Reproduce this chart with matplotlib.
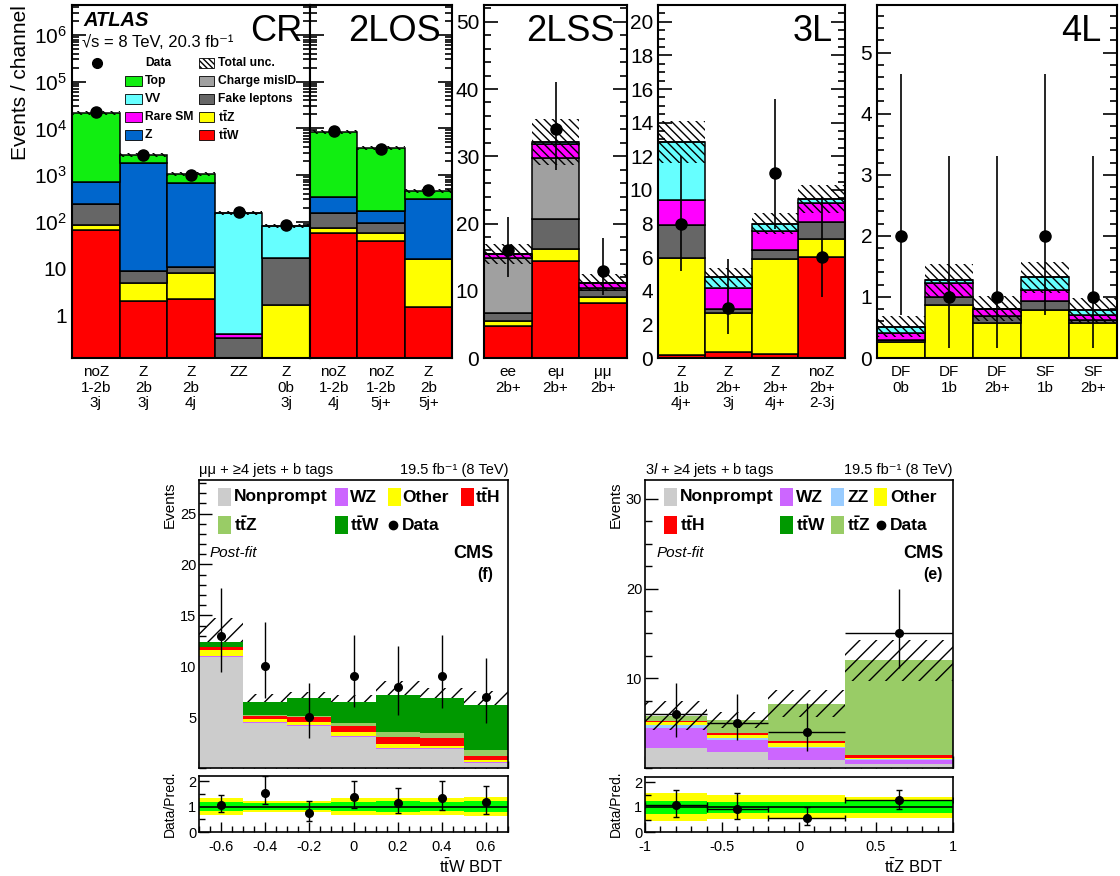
import numpy as np
import matplotlib
matplotlib.use("Agg")
import matplotlib.pyplot as plt
from matplotlib.patches import Rectangle
from matplotlib.ticker import FixedLocator, MultipleLocator, LogLocator, NullFormatter, FuncFormatter

plt.rcParams['font.family'] = ['Liberation Sans', 'DejaVu Sans']
plt.rcParams['mathtext.fontset'] = 'custom'
plt.rcParams['mathtext.rm'] = 'Liberation Sans'
plt.rcParams['mathtext.it'] = 'Liberation Sans:italic'
plt.rcParams['mathtext.bf'] = 'Liberation Sans:bold'
plt.rcParams['axes.unicode_minus'] = False
plt.rcParams['hatch.linewidth'] = 1.0

# ================= ATLAS data (layer increments, bottom -> top) =================
cr_labels = ["noZ\n1-2b\n3j", "Z\n2b\n3j", "Z\n2b\n4j", "ZZ", "Z\n0b\n3j"]
cr_ttW   = [66, 2.0, 2.2, 0, 0]
cr_ttZ   = [19, 2.9, 5.8, 0, 1.6]
cr_fake  = [155, 3.9, 2.5, 0.32, 15.4]
cr_misid = [0, 0, 0, 0, 0]
cr_rare  = [0, 0, 0, 0.07, 0]
cr_Z     = [460, 1791, 660, 0, 0]
cr_VV    = [0, 0, 0, 151.6, 63]
cr_top   = [20300, 900, 380, 0, 0]
cr_unc   = [2000, 250, 100, 15, 8]
cr_data  = [22000, 2700, 1000, 160, 85]

los_labels = ["noZ\n1-2b\n4j", "noZ\n1-2b\n5j+", "Z\n2b\n5j+"]
los_ttW   = [57, 38, 1.5]
los_ttZ   = [16, 19, 14.5]
los_fake  = [77, 38, 0]
los_misid = [0, 0, 0]
los_rare  = [0, 0, 0]
los_Z     = [190, 75, 284]
los_VV    = [0, 0, 0]
los_top   = [7960, 3630, 150]
los_unc   = [800, 350, 45]
los_data  = [8800, 3700, 470]

lss_labels = ["ee\n2b+", "eμ\n2b+", "μμ\n2b+"]
lss_ttW   = [4.75, 14.4, 8.2]
lss_ttZ   = [0.75, 1.8, 0.8]
lss_fake  = [1.2, 4.4, 1.1]
lss_misid = [8.1, 9.1, 0.3]
lss_rare  = [0.7, 2.1, 0.8]
lss_Z     = [0, 0, 0]
lss_VV    = [0, 0.3, 0]
lss_top   = [0, 0, 0]
lss_unc   = [1.5, 3.4, 1.3]
lss_data  = [16, 34, 13]
lss_lo    = [12, 28, 9.4]
lss_hi    = [21, 41, 17.8]

l3_labels = ["Z\n1b\n4j+", "Z\n2b+\n3j", "Z\n2b+\n4j+", "noZ\n2b+\n2-3j"]
l3_ttW   = [0.2, 0.35, 0.25, 6.0]
l3_ttZ   = [5.75, 2.35, 5.65, 1.05]
l3_fake  = [1.95, 0.2, 0.55, 1.05]
l3_misid = [0, 0, 0, 0]
l3_rare  = [1.5, 1.25, 1.1, 1.1]
l3_Z     = [0, 0, 0, 0]
l3_VV    = [3.45, 0.65, 0.45, 0.25]
l3_top   = [0, 0, 0, 0]
l3_unc   = [1.25, 0.55, 0.65, 0.85]
l3_data  = [8, 3, 11, 6]
l3_lo    = [5.2, 1.4, 7.7, 3.6]
l3_hi    = [12, 5.9, 15.4, 9.6]

l4_labels = ["DF\n0b", "DF\n1b", "DF\n2b+", "SF\n1b", "SF\n2b+"]
l4_ttW   = [0, 0, 0, 0, 0]
l4_ttZ   = [0.27, 0.87, 0.57, 0.79, 0.57]
l4_fake  = [0.03, 0.13, 0.11, 0.14, 0.05]
l4_misid = [0, 0, 0, 0, 0]
l4_rare  = [0.11, 0.23, 0.12, 0.19, 0.08]
l4_Z     = [0, 0, 0, 0, 0]
l4_VV    = [0.10, 0.04, 0.01, 0.20, 0.08]
l4_top   = [0, 0, 0, 0, 0]
l4_unc   = [0.17, 0.27, 0.2, 0.26, 0.2]
l4_data  = [2, 1, 1, 2, 1]
l4_lo    = [0.7, 0.17, 0.17, 0.7, 0.17]
l4_hi    = [4.65, 3.3, 3.3, 4.65, 3.3]

atlas_colors = {"ttW": "#ff0000", "ttZ": "#ffff00", "Fake": "#666666", "MisID": "#a0a0a0",
                "Rare": "#ff00ff", "Z": "#0066cc", "VV": "#66ffff", "Top": "#11ee11"}

# ================= CMS data =================
f_edges = [-0.7, -0.5, -0.3, -0.1, 0.1, 0.3, 0.5, 0.7]
f_nonprompt = [10.9, 4.4, 4.1, 3.0, 1.9, 1.85, 0.45]
f_WZ        = [0.12, 0.15, 0.1, 0.15, 0.1, 0.15, 0.1]
f_other     = [0.55, 0.25, 0.35, 0.4, 0.4, 0.2, 0.25]
f_ttH       = [0.3, 0.3, 0.5, 0.55, 0.6, 0.7, 0.4]
f_ttZ       = [0.06, 0.15, 0.05, 0.3, 0.5, 0.5, 0.6]
f_ttW       = [0.5, 1.28, 1.8, 2.1, 3.7, 3.5, 4.4]
f_unc       = [2.3, 0.7, 0.6, 0.7, 1.3, 1.0, 1.4]
f_data      = [13, 10, 5, 9, 8, 9, 7]
f_lo        = [9.4, 6.9, 2.9, 6.0, 5.2, 5.9, 4.4]
f_hi        = [17.7, 14.3, 8.4, 13.1, 12.0, 13.1, 10.8]
f_ratio     = [1.07, 1.55, 0.74, 1.39, 1.13, 1.35, 1.16]
f_ratio_lo  = [0.77, 1.1, 0.43, 0.93, 0.74, 0.88, 0.71]
f_ratio_hi  = [1.45, 2.2, 1.23, 2.0, 1.72, 2.0, 1.8]
f_band1     = [0.17, 0.13, 0.14, 0.19, 0.2, 0.19, 0.2]
f_band2     = [0.32, 0.2, 0.22, 0.33, 0.35, 0.33, 0.37]

e_edges = [-1.0, -0.6, -0.2, 0.3, 1.0]
e_nonprompt = [2.2, 1.77, 0.85, 0.47]
e_WZ        = [2.25, 1.3, 1.4, 0.45]
e_ZZ        = [0.37, 0.23, 0.1, 0.03]
e_other     = [0.28, 0.4, 0.45, 0.15]
e_ttH       = [0.1, 0.2, 0.2, 0.3]
e_ttW       = [0.05, 0.05, 0.05, 0.05]
e_ttZ       = [0.6, 1.43, 4.12, 10.55]
e_unc       = [1.6, 0.9, 1.5, 2.3]
e_data      = [6, 5, 4, 15]
e_lo        = [3.5, 3.1, 1.9, 11.2]
e_hi        = [9.5, 8.3, 7.2, 19.9]
e_ratio     = [1.07, 0.94, 0.58, 1.28]
e_ratio_lo  = [0.62, 0.52, 0.3, 0.94]
e_ratio_hi  = [1.68, 1.55, 1.0, 1.69]
e_band1     = [0.26, 0.22, 0.22, 0.23]
e_band2     = [0.55, 0.48, 0.48, 0.42]

cms_colors = {"Nonprompt": "#cccccc", "WZ": "#cc66ff", "ZZ": "#99ccff", "Other": "#ffff00",
              "ttH": "#ff0000", "ttW": "#009900", "ttZ": "#99cc66"}

# ================= figure =================
W, H = 1120, 876
fig = plt.figure(figsize=(W / 100, H / 100), dpi=100)


def add_ax(l, t, r, b):
    return fig.add_axes([l / W, 1 - b / H, (r - l) / W, (b - t) / H])


def style_frame(ax, lw=1.5):
    for s in ax.spines.values():
        s.set_linewidth(lw)


def atlas_panel(box, layers, data, labels, unc, lo=None, hi=None, log=False):
    ax = add_ax(*box)
    n = len(data)
    x = np.arange(n) + 0.5
    base = 1e-3 if log else 0.0
    bottom = np.full(n, base)
    for name, vals in layers:
        v = np.asarray(vals, float)
        ax.bar(x, v, width=1.0, bottom=bottom, color=atlas_colors[name],
               edgecolor='black', linewidth=1.1, zorder=2)
        bottom = bottom + v
    u = np.asarray(unc, float)
    ax.bar(x, 2 * u, width=1.0, bottom=bottom - u, fill=False, hatch='\\\\\\\\',
           edgecolor='black', linewidth=0, zorder=3)
    d = np.asarray(data, float)
    if lo is not None:
        ax.errorbar(x, d, yerr=[d - np.asarray(lo), np.asarray(hi) - d], fmt='o',
                    color='black', ms=8, elinewidth=1.2, capsize=0, zorder=4)
    else:
        ax.plot(x, d, 'o', color='black', ms=8, zorder=4)
    if log:
        ax.set_yscale('log')
    ax.set_xlim(0, n)
    ax.set_xticks(x)
    ax.set_xticklabels(labels, fontsize=11, linespacing=1.15)
    ax.xaxis.set_minor_locator(FixedLocator(np.arange(1, n)))
    ax.tick_params(axis='x', which='major', length=0, pad=5)
    ax.tick_params(axis='x', which='minor', direction='in', length=7, width=1.2)
    ax.tick_params(axis='y', which='both', direction='in', left=True, right=True,
                   labelsize=15, width=1.2)
    ax.tick_params(axis='y', which='major', length=10)
    ax.tick_params(axis='y', which='minor', length=5)
    style_frame(ax)
    return ax


def layers_of(ttW, ttZ, fake, misid, rare, Z, VV, top):
    return [("ttW", ttW), ("ttZ", ttZ), ("Fake", fake), ("MisID", misid),
            ("Rare", rare), ("Z", Z), ("VV", VV), ("Top", top)]


def logfmt(v, pos):
    if v == 1:
        return "1"
    if v == 10:
        return "10"
    return r"$10^{%d}$" % int(round(np.log10(v)))


def gfmt(v, pos):
    return "%g" % round(v, 6)


ax_cr = atlas_panel((72, 5, 310, 358),
                    layers_of(cr_ttW, cr_ttZ, cr_fake, cr_misid, cr_rare, cr_Z, cr_VV, cr_top),
                    cr_data, cr_labels, cr_unc, log=True)
ax_los = atlas_panel((310, 5, 452, 358),
                     layers_of(los_ttW, los_ttZ, los_fake, los_misid, los_rare, los_Z, los_VV, los_top),
                     los_data, los_labels, los_unc, log=True)
for a in (ax_cr, ax_los):
    a.set_ylim(0.12, 4.4e6)
    a.yaxis.set_major_locator(FixedLocator([1, 10, 1e2, 1e3, 1e4, 1e5, 1e6]))
    a.yaxis.set_minor_locator(LogLocator(base=10, subs=np.arange(2, 10), numticks=20))
    a.yaxis.set_minor_formatter(NullFormatter())
ax_cr.yaxis.set_major_formatter(FuncFormatter(logfmt))
ax_los.tick_params(axis='y', labelleft=False)

ax_lss = atlas_panel((484, 5, 627, 358),
                     layers_of(lss_ttW, lss_ttZ, lss_fake, lss_misid, lss_rare, lss_Z, lss_VV, lss_top),
                     lss_data, lss_labels, lss_unc, lss_lo, lss_hi)
ax_lss.set_ylim(0, 52.5)
ax_lss.yaxis.set_major_locator(MultipleLocator(10))
ax_lss.yaxis.set_minor_locator(MultipleLocator(2))

ax_3l = atlas_panel((658, 5, 845, 358),
                    layers_of(l3_ttW, l3_ttZ, l3_fake, l3_misid, l3_rare, l3_Z, l3_VV, l3_top),
                    l3_data, l3_labels, l3_unc, l3_lo, l3_hi)
ax_3l.set_ylim(0, 21)
ax_3l.yaxis.set_major_locator(MultipleLocator(2))
ax_3l.yaxis.set_minor_locator(MultipleLocator(0.5))

ax_4l = atlas_panel((877, 5, 1117, 358),
                    layers_of(l4_ttW, l4_ttZ, l4_fake, l4_misid, l4_rare, l4_Z, l4_VV, l4_top),
                    l4_data, l4_labels, l4_unc, l4_lo, l4_hi)
ax_4l.set_ylim(0, 5.78)
ax_4l.yaxis.set_major_locator(MultipleLocator(1))
ax_4l.yaxis.set_minor_locator(MultipleLocator(0.2))


# ================= CMS panels =================
def cms_panels(box_main, box_ratio, edges, layers, unc, data, lo, hi,
               ratio, rlo, rhi, band1, band2, ylim, ymaj, ymin, xmaj, xmin,
               xerr_bars, hatch_top):
    e = np.asarray(edges, float)
    c = 0.5 * (e[1:] + e[:-1])
    w = np.diff(e)
    ax = add_ax(*box_main)
    bottom = np.zeros(len(c))
    for name, vals in layers:
        v = np.asarray(vals, float)
        ax.bar(c, v, width=w, bottom=bottom, color=cms_colors[name], linewidth=0, zorder=2)
        bottom = bottom + v
    u = np.asarray(unc, float)
    ax.bar(c, 2 * u, width=w, bottom=bottom - u, fill=False, hatch='//',
           edgecolor='black', linewidth=0, zorder=3 if hatch_top else 1)
    d = np.asarray(data, float)
    ax.errorbar(c, d, yerr=[d - np.asarray(lo), np.asarray(hi) - d],
                xerr=(w / 2 if xerr_bars else None), fmt='o', color='black', ms=5.5,
                elinewidth=1.0, capsize=0, zorder=4)
    ax.set_xlim(e[0], e[-1])
    ax.set_ylim(*ylim)
    ax.yaxis.set_major_locator(MultipleLocator(ymaj))
    ax.yaxis.set_minor_locator(MultipleLocator(ymin))
    ax.xaxis.set_major_locator(MultipleLocator(xmaj))
    ax.xaxis.set_minor_locator(MultipleLocator(xmin))
    ax.tick_params(which='both', direction='in', labelsize=10.5, width=1.0)
    ax.tick_params(which='major', length=9)
    ax.tick_params(which='minor', length=5)
    ax.tick_params(axis='x', labelbottom=False)
    ax.tick_params(axis='y', pad=2)
    ax.set_yticks(list(np.arange(ymaj, ylim[1], ymaj)))
    style_frame(ax, 1.2)

    ar = add_ax(*box_ratio)
    ar.bar(c, 2 * np.asarray(band2), width=w, bottom=1 - np.asarray(band2), color='#ffff00', linewidth=0, zorder=1)
    ar.bar(c, 2 * np.asarray(band1), width=w, bottom=1 - np.asarray(band1), color='#00ff00', linewidth=0, zorder=2)
    ar.axhline(1, color='black', lw=1.2, zorder=3)
    r = np.asarray(ratio, float)
    ar.errorbar(c, r, yerr=[r - np.asarray(rlo), np.asarray(rhi) - r],
                xerr=(w / 2 if xerr_bars else None), fmt='o', color='black', ms=5.5,
                elinewidth=1.0, capsize=2, zorder=4)
    ar.set_xlim(e[0], e[-1])
    ar.set_ylim(0, 2.2)
    ar.set_yticks([0, 1, 2])
    ar.yaxis.set_minor_locator(MultipleLocator(0.5))
    ar.xaxis.set_major_locator(MultipleLocator(xmaj))
    ar.xaxis.set_minor_locator(MultipleLocator(xmin))
    ar.xaxis.set_major_formatter(FuncFormatter(gfmt))
    ar.tick_params(which='both', direction='in', labelsize=10.5, width=1.0)
    ar.tick_params(which='major', length=7)
    ar.tick_params(which='minor', length=4)
    ar.tick_params(axis='x', pad=6)
    ar.tick_params(axis='y', pad=2)
    style_frame(ar, 1.2)
    return ax, ar


f_layers = [("Nonprompt", f_nonprompt), ("WZ", f_WZ), ("Other", f_other),
            ("ttH", f_ttH), ("ttZ", f_ttZ), ("ttW", f_ttW)]
cms_panels((199, 480, 508, 768), (199, 776, 508, 832), f_edges, f_layers, f_unc,
           f_data, f_lo, f_hi, f_ratio, f_ratio_lo, f_ratio_hi, f_band1, f_band2,
           (0, 28.3), 5, 1, 0.2, 0.05, False, False)

e_layers = [("Nonprompt", e_nonprompt), ("WZ", e_WZ), ("ZZ", e_ZZ), ("Other", e_other),
            ("ttH", e_ttH), ("ttW", e_ttW), ("ttZ", e_ttZ)]
cms_panels((645, 480, 953, 768), (645, 777, 953, 832), e_edges, e_layers, e_unc,
           e_data, e_lo, e_hi, e_ratio, e_ratio_lo, e_ratio_hi, e_band1, e_band2,
           (0, 32.1), 10, 2.5, 0.5, 0.1, True, True)

# ================= overlay for text & legends (pixel coordinates) =================
ov = fig.add_axes([0, 0, 1, 1], zorder=10)
ov.set_xlim(0, W)
ov.set_ylim(H, 0)
ov.axis('off')

# ATLAS texts
fig.text(21 / W, 1 - 5 / H, "Events / channel", rotation=90, ha='center', va='top', fontsize=15)
ov.text(83, 20, "ATLAS", fontweight='bold', fontstyle='italic', fontsize=14.5, va='center')
ov.text(82, 42, "√s = 8 TeV, 20.3 fb⁻¹", fontsize=12, va='center')
for txt, xr in [("CR", 302), ("2LOS", 441), ("2LSS", 614), ("3L", 833), ("4L", 1101)]:
    ov.text(xr, 41, txt, fontsize=26, ha='right', va='baseline')

# ATLAS legend
rows = [63, 81, 99, 117, 135]
ov.plot([97], [rows[0]], 'o', color='black', ms=7)
ov.text(145, rows[0], "Data", fontsize=8.7, fontweight='bold', va='center')
col1 = [("Top", "Top"), ("VV", "VV"), ("Rare", "Rare SM"), ("Z", "Z")]
for (k, lab), yy in zip(col1, rows[1:]):
    ov.add_patch(Rectangle((125, yy - 5), 17, 10, facecolor=atlas_colors[k], edgecolor='black', lw=0.6))
    ov.text(145, yy, lab, fontsize=8.7, fontweight='bold', va='center')
ov.add_patch(Rectangle((199, rows[0] - 5), 15, 10, facecolor='white', edgecolor='black',
                       lw=0.6, hatch='\\\\\\\\\\\\'))
ov.text(218, rows[0], "Total unc.", fontsize=8.7, fontweight='bold', va='center')
col2 = [("MisID", "Charge misID"), ("Fake", "Fake leptons"),
        ("ttZ", r"$\mathbf{t\bar{t}Z}$"), ("ttW", r"$\mathbf{t\bar{t}W}$")]
for (k, lab), yy in zip(col2, rows[1:]):
    ov.add_patch(Rectangle((199, yy - 5), 15, 10, facecolor=atlas_colors[k], edgecolor='black', lw=0.6))
    ov.text(218, yy, lab, fontsize=8.7, fontweight='bold', va='center')


# CMS texts
def cms_texts(x0, x1, channel, ylab_x, letter, cms_x, post_x):
    ov.text(x0, 470, channel, fontsize=10.5, va='center', ha='left')
    ov.text(x1, 470, "19.5 fb⁻¹ (8 TeV)", fontsize=10.5, va='center', ha='right')
    ov.text(ylab_x, 482, "Events", rotation=90, ha='center', va='top', fontsize=11)
    ov.text(ylab_x, 804, "Data/Pred.", rotation=90, ha='center', va='center', fontsize=10)
    ov.text(post_x, 553, "Post-fit", fontstyle='italic', fontsize=11, va='center')
    ov.text(cms_x, 553, "CMS", fontweight='bold', fontsize=13, va='center', ha='right')
    ov.text(cms_x, 574, letter, fontweight='bold', fontsize=11.5, va='center', ha='right')


cms_texts(199, 508, "μμ + ≥4 jets + b tags", 170, "(f)", 493, 210)
cms_texts(645, 953, r"3$\mathit{l}$ + ≥4 jets + b tags", 616, "(e)", 943, 657)
ov.text(503, 867, r"$\mathrm{t\bar{t}W}$ BDT", fontsize=12, ha='right', va='center')
ov.text(943, 867, r"$\mathrm{t\bar{t}Z}$ BDT", fontsize=12, ha='right', va='center')


def cms_legend(entries, fs=12.5):
    for kind, key, lab, bx, tx, yy in entries:
        if kind == 'box':
            ov.add_patch(Rectangle((bx, yy - 9), 13, 18, facecolor=cms_colors[key], edgecolor='none'))
        else:
            ov.plot([bx], [yy], 'o', color='black', ms=6)
        ov.text(tx, yy, lab, fontsize=fs, fontweight='bold', va='center')


ttH = r"$\mathbf{t\bar{t}H}$"
ttW = r"$\mathbf{t\bar{t}W}$"
ttZ = r"$\mathbf{t\bar{t}Z}$"
cms_legend([
    ('box', 'Nonprompt', 'Nonprompt', 218, 234, 497),
    ('box', 'WZ', 'WZ', 335, 350, 497),
    ('box', 'Other', 'Other', 388, 402, 497),
    ('box', 'ttH', ttH, 461, 475, 497),
    ('box', 'ttZ', ttZ, 218, 234, 525),
    ('box', 'ttW', ttW, 335, 350, 525),
    ('dot', None, 'Data', 393, 402, 525),
])
cms_legend([
    ('box', 'Nonprompt', 'Nonprompt', 664, 680, 497),
    ('box', 'WZ', 'WZ', 780, 796, 497),
    ('box', 'ZZ', 'ZZ', 831, 847, 497),
    ('box', 'Other', 'Other', 874, 890, 497),
    ('box', 'ttH', ttH, 664, 680, 525),
    ('box', 'ttW', ttW, 780, 796, 525),
    ('box', 'ttZ', ttZ, 831, 847, 525),
    ('dot', None, 'Data', 881, 890, 525),
])

fig.savefig("out.png", dpi=100)
